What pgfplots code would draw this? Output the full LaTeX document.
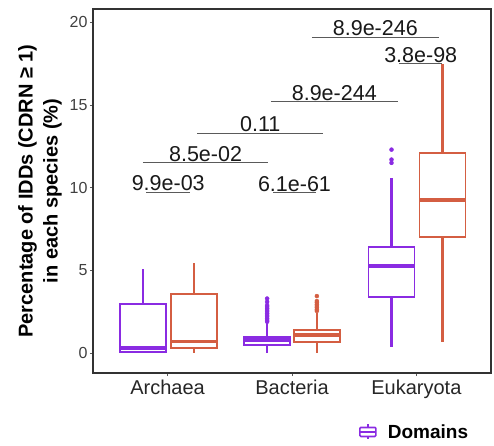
\documentclass[border=0pt]{standalone}
\usepackage{pgfplots}
\pgfplotsset{compat=1.18}
\usepgfplotslibrary{statistics}
\usepackage{fontspec}
\setmainfont{Liberation Sans}
\definecolor{cpurple}{RGB}{138,43,226}
\definecolor{corange}{RGB}{212,94,66}
\definecolor{sigline}{RGB}{90,90,90}
\begin{document}
\begin{tikzpicture}
\path (0,0) rectangle (494pt,445pt);
\begin{axis}[
  at={(93pt,72pt)}, anchor=south west,
  scale only axis, width=398pt, height=364pt,
  xmin=0.4, xmax=3.6, ymin=-1.2, ymax=20.8,
  xtick={1,2,3}, xticklabels={Archaea,Bacteria,Eukaryota},
  ytick={0,5,10,15,20},
  /pgf/number format/assume math mode=true,
  tick align=outside, tick pos=left,
  major tick length=3pt,
  tick style={black!65, line width=0.8pt},
  axis line style={black!80, line width=1.1pt},
  xticklabel style={font=\fontsize{20}{22}\selectfont, text=black!85},
  yticklabel style={font=\fontsize{16}{18}\selectfont, text=black!75, xshift=1pt},
  ylabel={Percentage of IDDs (CDRN ≥ 1)\\in each species (\%)},
  ylabel style={at={(axis description cs:-0.133,0.5)}, anchor=center,
    align=center, font=\bfseries\fontsize{20}{25}\selectfont},
  boxplot/draw direction=y,
  boxplot/every box/.style={line width=1.9pt},
  boxplot/every median/.style={line width=3.6pt},
  boxplot/draw/lower whisker/.code={
    \draw[line width=2.4pt] (boxplot box cs:\pgfplotsboxplotvalue{lower quartile},0.5)
      -- (boxplot box cs:\pgfplotsboxplotvalue{lower whisker},0.5);},
  boxplot/draw/upper whisker/.code={
    \draw[line width=2.4pt] (boxplot box cs:\pgfplotsboxplotvalue{upper quartile},0.5)
      -- (boxplot box cs:\pgfplotsboxplotvalue{upper whisker},0.5);},
  legend style={draw=none, fill=none, at={(rel axis cs:0.66,-0.162)}, anchor=west,
    font=\bfseries\fontsize{19}{22}\selectfont},
  legend cell align=left,
  clip=false,
]
\addlegendimage{legend image code/.code={
  \draw[cpurple, line width=1.6pt, rounded corners=1pt] (0pt,-4.5pt) rectangle (16pt,4.5pt);
  \draw[cpurple, line width=2pt] (0pt,0pt) -- (16pt,0pt);
  \draw[cpurple, line width=1.6pt] (8pt,4.5pt) -- (8pt,7.5pt) (8pt,-4.5pt) -- (8pt,-7.5pt);}}
\addlegendentry{\hspace*{9pt}Domains}

% Archaea
\addplot[boxplot prepared={draw position=0.8, box extend=0.37,
  lower whisker=0, lower quartile=0.05, median=0.3, upper quartile=2.95, upper whisker=5.1},
  draw=cpurple, solid, mark=*, mark options={fill=cpurple, draw=cpurple, scale=1}]
  coordinates {};
\addplot[boxplot prepared={draw position=1.21, box extend=0.37,
  lower whisker=0, lower quartile=0.3, median=0.7, upper quartile=3.6, upper whisker=5.45},
  draw=corange, solid, mark=*, mark options={fill=corange, draw=corange, scale=1}]
  coordinates {};
% Bacteria
\addplot[boxplot prepared={draw position=1.8, box extend=0.37,
  lower whisker=0, lower quartile=0.5, median=0.78, upper quartile=1.0, upper whisker=1.8},
  draw=cpurple, solid, mark=*, mark options={fill=cpurple, draw=cpurple, scale=1}]
  coordinates {(0,1.9) (0,2.0) (0,2.1) (0,2.2) (0,2.3) (0,2.4) (0,2.5) (0,2.6) (0,2.7) (0,2.8) (0,2.9) (0,3.1) (0,3.3)};
\addplot[boxplot prepared={draw position=2.2, box extend=0.37,
  lower whisker=0, lower quartile=0.7, median=1.1, upper quartile=1.4, upper whisker=2.45},
  draw=corange, solid, mark=*, mark options={fill=corange, draw=corange, scale=1}]
  coordinates {(0,2.55) (0,2.65) (0,2.75) (0,2.85) (0,2.95) (0,3.05) (0,3.15) (0,3.45)};
% Eukaryota
\addplot[boxplot prepared={draw position=2.8, box extend=0.37,
  lower whisker=0.37, lower quartile=3.4, median=5.25, upper quartile=6.4, upper whisker=10.6},
  draw=cpurple, solid, mark=*, mark options={fill=cpurple, draw=cpurple, scale=1}]
  coordinates {(0,11.5) (0,11.7) (0,12.3)};
\addplot[boxplot prepared={draw position=3.21, box extend=0.37,
  lower whisker=0.66, lower quartile=7.0, median=9.25, upper quartile=12.1, upper whisker=17.45},
  draw=corange, solid, mark=*, mark options={fill=corange, draw=corange, scale=1}]
  coordinates {};

% significance annotations
\begin{scope}[every node/.style={anchor=base, yshift=1.5pt, text=black!90, font=\fontsize{21.5}{24}\selectfont}]
\draw[sigline, line width=0.8pt] (axis cs:0.83,9.73) -- (axis cs:1.18,9.73) node[pos=0.5] {9.9e-03};
\draw[sigline, line width=0.8pt] (axis cs:0.80,11.5) -- (axis cs:1.81,11.5) node[pos=0.5] {8.5e-02};
\draw[sigline, line width=0.8pt] (axis cs:1.24,13.3) -- (axis cs:2.25,13.3) node[pos=0.5] {0.11};
\draw[sigline, line width=0.8pt] (axis cs:1.85,9.7) -- (axis cs:2.19,9.7) node[pos=0.5] {6.1e-61};
\draw[sigline, line width=0.8pt] (axis cs:1.83,15.2) -- (axis cs:2.85,15.2) node[pos=0.5] {8.9e-244};
\draw[sigline, line width=0.8pt] (axis cs:2.16,19.1) -- (axis cs:3.18,19.1) node[pos=0.5] {8.9e-246};
\draw[sigline, line width=0.8pt] (axis cs:2.86,17.5) -- (axis cs:3.21,17.5) node[pos=0.5] {3.8e-98};
\end{scope}
\end{axis}
\end{tikzpicture}
\end{document}
